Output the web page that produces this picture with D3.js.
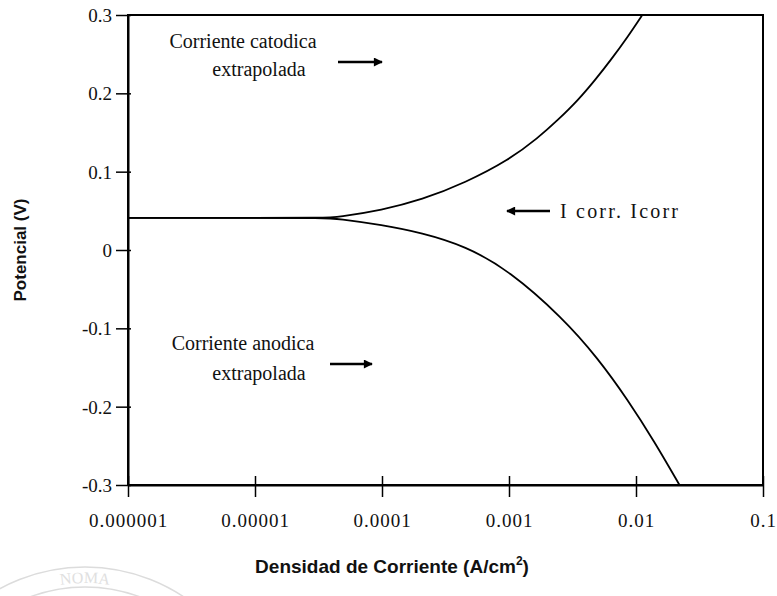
<!DOCTYPE html>
<html><head><meta charset="utf-8">
<script src="https://cdn.jsdelivr.net/npm/d3@7"></script>
<style>
html,body{margin:0;padding:0;background:#fff;}
svg{display:block;}
</style></head>
<body>
<svg id="c" width="777" height="596"></svg>
<script>
// ---- data ----
const xTickValues = [1e-6, 1e-5, 1e-4, 1e-3, 1e-2, 1e-1];
const xTickLabels = ["0.000001", "0.00001", "0.0001", "0.001", "0.01", "0.1"];
const yTickValues = [-0.3, -0.2, -0.1, 0, 0.1, 0.2, 0.3];
const yTickLabels = ["-0.3", "-0.2", "-0.1", "0", "0.1", "0.2", "0.3"];

const cathodicCurrent   = [1e-6, 1e-5, 3.5e-5, 4.5e-5, 1.0e-4, 2.05e-4, 4.54e-4, 1.0e-3, 1.69e-3, 2.43e-3, 3.49e-3, 4.82e-3, 6.3e-3, 8.6e-3, 1.12e-2];
const cathodicPotential = [0.041, 0.041, 0.041, 0.042, 0.051, 0.064, 0.086, 0.115, 0.143, 0.166, 0.191, 0.218, 0.242, 0.272, 0.300];

const anodicCurrent   = [1e-6, 1e-5, 3.5e-5, 4.5e-5, 1.0e-4, 2.05e-4, 4.54e-4, 1.0e-3, 2.66e-3, 5.0e-3, 8.6e-3, 1.4e-2, 2.2e-2];
const anodicPotential = [0.041, 0.041, 0.041, 0.040, 0.032, 0.022, 0.005, -0.026, -0.087, -0.138, -0.191, -0.245, -0.300];

const annotations = [
  {lines: ["Corriente catodica", "extrapolada"]},
  {lines: ["Corriente anodica", "extrapolada"]},
  {lines: ["I corr. Icorr"]}
];

// ---- drawing ----
const svg = d3.select("#c");
const serif = "'Liberation Serif','DejaVu Serif',serif";
const sans = "'Liberation Sans','DejaVu Sans',sans-serif";

const x = d3.scaleLog().domain([1e-6, 0.1]).range([128, 763]);
const y = d3.scaleLinear().domain([-0.3, 0.3]).range([485, 15]);

// watermark seal (faint)
const wm = svg.append("g").attr("fill", "none").attr("stroke", "#dcdcdc").attr("stroke-width", 1.5);
wm.append("circle").attr("cx", 85).attr("cy", 745).attr("r", 178);
wm.append("circle").attr("cx", 85).attr("cy", 745).attr("r", 158);
svg.append("path").attr("id", "wmArc").attr("fill", "none")
  .attr("d", d3.arc()({innerRadius: 0, outerRadius: 162, startAngle: -0.6, endAngle: 0.6}).split("L")[0])
  .attr("transform", "translate(85,745)");
svg.append("text").attr("font-family", serif).attr("font-size", 16).attr("fill", "#e0e0e0")
  .append("textPath").attr("href", "#wmArc").attr("startOffset", "50%").attr("text-anchor", "middle")
  .text("NOMA");

// frame
const [x0, x1] = x.range();
const [yb, yt] = y.range();
svg.append("rect").attr("x", x0).attr("y", yt).attr("width", x1 - x0).attr("height", yb - yt)
  .attr("fill", "none").attr("stroke", "#000").attr("stroke-width", 2);

// x axis
const xAxis = d3.axisBottom(x).tickValues(xTickValues)
  .tickFormat((d, i) => xTickLabels[i]).tickSizeOuter(0);
const gx = svg.append("g").attr("transform", `translate(0,${yb})`).call(xAxis);
gx.select(".domain").attr("stroke", "#000").attr("stroke-width", 2);
gx.selectAll(".tick line").attr("y1", -9).attr("y2", 12).attr("stroke", "#000").attr("stroke-width", 1.5);
gx.selectAll(".tick text").attr("y", 42).attr("dy", 0).attr("letter-spacing", 1)
  .attr("font-family", serif).attr("font-size", 19).attr("fill", "#111");

// y axis
const yAxis = d3.axisLeft(y).tickValues(yTickValues)
  .tickFormat(d => yTickLabels[yTickValues.indexOf(d)]).tickSizeOuter(0);
const gy = svg.append("g").attr("transform", `translate(${x0},0)`).call(yAxis);
gy.select(".domain").attr("stroke", "#000").attr("stroke-width", 2);
gy.selectAll(".tick line").attr("x1", 3).attr("x2", -12).attr("stroke", "#000").attr("stroke-width", 1.5);
gy.selectAll(".tick text").attr("x", -16).attr("dy", "0.35em")
  .attr("font-family", serif).attr("font-size", 19).attr("fill", "#111");

// curves
const line = d3.line().x(d => x(d[0])).y(d => y(d[1])).curve(d3.curveBasis);
const cath = cathodicCurrent.map((c, i) => [c, cathodicPotential[i]]);
const anod = anodicCurrent.map((c, i) => [c, anodicPotential[i]]);
svg.append("path").datum(cath).attr("d", line).attr("fill", "none").attr("stroke", "#000").attr("stroke-width", 1.8);
svg.append("path").datum(anod).attr("d", line).attr("fill", "none").attr("stroke", "#000").attr("stroke-width", 1.8);

// arrow marker
const defs = svg.append("defs");
defs.append("marker").attr("id", "ah").attr("viewBox", "0 0 10 10").attr("refX", 9).attr("refY", 5)
  .attr("markerWidth", 12).attr("markerHeight", 9).attr("markerUnits", "userSpaceOnUse").attr("orient", "auto")
  .append("path").attr("d", "M0,0L10,5L0,10Z").attr("fill", "#000");

function arrow(xa, ya, xb, yb2) {
  svg.append("line").attr("x1", xa).attr("y1", ya).attr("x2", xb).attr("y2", yb2)
    .attr("stroke", "#000").attr("stroke-width", 2.4).attr("marker-end", "url(#ah)");
}

// annotation texts
function block(lines, centers, y0, dy) {
  const t = svg.append("text").attr("font-family", serif).attr("font-size", 20).attr("fill", "#111")
    .attr("text-anchor", "middle");
  lines.forEach((l, i) => t.append("tspan").attr("x", centers[i]).attr("y", y0 + i * dy).text(l));
}
block(annotations[0].lines, [243, 259], 48, 28);
arrow(338, 62, 382, 62);
block(annotations[1].lines, [243, 259], 350, 30);
arrow(330, 364, 372, 364);
svg.append("text").attr("font-family", serif).attr("font-size", 20).attr("fill", "#111")
  .attr("letter-spacing", 2.2).attr("x", 560).attr("y", 218).text(annotations[2].lines[0]);
arrow(550, 211, 507, 211);

// axis titles
const xt = svg.append("text").attr("font-family", sans).attr("font-weight", "bold").attr("font-size", 19)
  .attr("text-anchor", "middle").attr("x", 392).attr("y", 573).attr("fill", "#111");
xt.append("tspan").text("Densidad de Corriente (A/cm");
xt.append("tspan").attr("font-size", 12).attr("dy", -8).text("2");
xt.append("tspan").attr("dy", 8).text(")");

svg.append("text").attr("font-family", sans).attr("font-weight", "bold").attr("font-size", 17)
  .attr("text-anchor", "middle").attr("transform", "translate(26,250) rotate(-90)").attr("fill", "#111")
  .text("Potencial (V)");
</script>
</body></html>
